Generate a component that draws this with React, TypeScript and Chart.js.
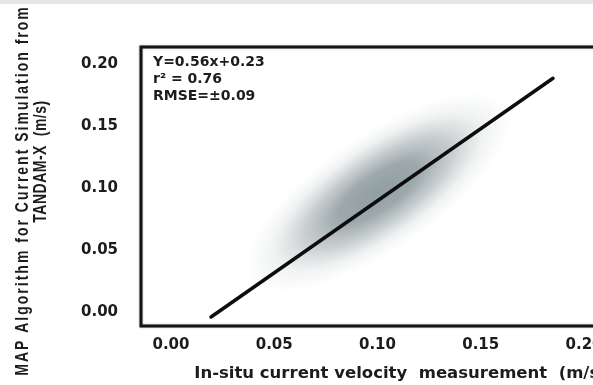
import React, { useEffect, useRef } from "react";
import { Chart, registerables } from "chart.js";

Chart.register(...registerables);

// ---- data ----
const xTickValues = [0, 0.05, 0.1, 0.15, 0.2];
const yTickValues = [0, 0.05, 0.1, 0.15, 0.2];
const xRange = [-0.0145, 0.2368];
const yRange = [-0.0109, 0.2142];
const fitLineX = [0.0194, 0.185];
const fitLineY = [-0.0036, 0.189];
// density cloud: outer ends of its major axis, and its half width (x units)
const cloudAxisX = [0.038, 0.163];
const cloudAxisY = [0.026, 0.168];
const cloudHalfWidth = 0.028;
const statsLines = ["Y=0.56x+0.23", "r\u00b2 = 0.76", "RMSE=\u00b10.09"];
const xTitle = "In-situ current velocity  measurement  (m/s)";
const yTitleLines = ["MAP Algorithm for Current Simulation from", "TANDAM-X  (m/s)"];

const TEXT = "#1c1c1c";
const WIDE = "'DejaVu Sans', sans-serif";
const ARIAL = "'Liberation Sans', Arial, sans-serif";

const cloudPlugin = {
  id: "cloud",
  beforeDatasetsDraw(chart: any) {
    const { ctx, chartArea, scales } = chart;
    const x = scales.x, y = scales.y;
    const x1 = x.getPixelForValue(cloudAxisX[0]);
    const y1 = y.getPixelForValue(cloudAxisY[0]);
    const x2 = x.getPixelForValue(cloudAxisX[1]);
    const y2 = y.getPixelForValue(cloudAxisY[1]);
    const cx = (x1 + x2) / 2, cy = (y1 + y2) / 2;
    const half = Math.hypot(x2 - x1, y2 - y1) / 2;
    const ang = Math.atan2(y2 - y1, x2 - x1);
    const w = x.getPixelForValue(cloudHalfWidth) - x.getPixelForValue(0);
    ctx.save();
    ctx.beginPath();
    ctx.rect(chartArea.left, chartArea.top, chartArea.right - chartArea.left, chartArea.bottom - chartArea.top);
    ctx.clip();
    ctx.translate(cx, cy);
    ctx.rotate(ang);
    ctx.scale(half, w);
    const g = ctx.createRadialGradient(0, 0, 0, 0, 0, 1);
    g.addColorStop(0, "rgba(84,104,109,0.64)");
    g.addColorStop(0.3, "rgba(86,106,111,0.58)");
    g.addColorStop(0.55, "rgba(95,114,119,0.34)");
    g.addColorStop(0.78, "rgba(112,130,134,0.1)");
    g.addColorStop(1, "rgba(130,145,150,0)");
    ctx.fillStyle = g;
    ctx.beginPath();
    ctx.arc(0, 0, 1, 0, Math.PI * 2);
    ctx.fill();
    ctx.restore();
  },
};

const framePlugin = {
  id: "frame",
  afterDatasetsDraw(chart: any) {
    const { ctx, chartArea: a } = chart;
    ctx.save();
    ctx.strokeStyle = "#151515";
    ctx.lineWidth = 3;
    ctx.shadowColor = "rgba(0,0,0,0.35)";
    ctx.shadowBlur = 2;
    ctx.strokeRect(a.left, a.top, a.right - a.left, a.bottom - a.top);
    ctx.restore();
  },
};

const textPlugin = {
  id: "texts",
  afterDraw(chart: any) {
    const { ctx, chartArea: a } = chart;
    ctx.save();
    ctx.fillStyle = TEXT;
    ctx.font = `bold 14px ${WIDE}`;
    ctx.textAlign = "left";
    ctx.textBaseline = "middle";
    statsLines.forEach((t, i) => ctx.fillText(t, a.left + 12, a.top + 15 + i * 17));
    ctx.restore();

    // rotated y title (two lines)
    const cyMid = (a.top + a.bottom) / 2;
    const specs = [
      { x: 23, y: cyMid + 4, spacing: "2px" },
      { x: 41, y: cyMid - 25, spacing: "0.5px" },
    ];
    yTitleLines.forEach((t, i) => {
      const s = specs[i];
      ctx.save();
      ctx.fillStyle = TEXT;
      ctx.font = `bold 14px ${ARIAL}`;
      (ctx as any).letterSpacing = s.spacing;
      ctx.textAlign = "center";
      ctx.textBaseline = "middle";
      ctx.translate(s.x, s.y);
      ctx.rotate(-Math.PI / 2);
      ctx.scale(1, 1.3);
      ctx.fillText(t, 0, 0);
      ctx.restore();
    });
  },
};

export default function App() {
  const ref = useRef<HTMLCanvasElement | null>(null);
  useEffect(() => {
    if (!ref.current) return;
    const chart = new Chart(ref.current, {
      type: "line",
      data: {
        datasets: [
          {
            data: fitLineX.map((v, i) => ({ x: v, y: fitLineY[i] })),
            borderColor: "#0d0d0d",
            borderWidth: 3.5,
            pointRadius: 0,
            borderCapStyle: "round",
            fill: false,
          },
        ],
      },
      options: {
        animation: false,
        responsive: false,
        devicePixelRatio: 1,
        layout: { padding: { left: 0, right: 20, top: 47, bottom: 0 } },
        plugins: { legend: { display: false }, tooltip: { enabled: false } },
        scales: {
          x: {
            type: "linear",
            min: xRange[0],
            max: xRange[1],
            grid: { display: false, drawTicks: false },
            border: { display: false },
            afterBuildTicks: (s: any) => { s.ticks = xTickValues.map((v) => ({ value: v })); },
            afterFit: (s: any) => { s.height = 59; },
            ticks: {
              autoSkip: false,
              maxRotation: 0,
              padding: 10,
              color: TEXT,
              font: { family: WIDE, weight: "bold", size: 15 },
              callback: (v: any) => Number(v).toFixed(2),
            },
            title: {
              display: true,
              text: xTitle,
              color: TEXT,
              font: { family: WIDE, weight: "bold", size: 16.5 },
              padding: { top: 0, bottom: 1 },
            },
          },
          y: {
            type: "linear",
            min: yRange[0],
            max: yRange[1],
            grid: { display: false, drawTicks: false },
            border: { display: false },
            afterBuildTicks: (s: any) => { s.ticks = yTickValues.map((v) => ({ value: v })); },
            afterFit: (s: any) => { s.width = 141; },
            ticks: {
              autoSkip: false,
              padding: 23,
              color: TEXT,
              font: { family: WIDE, weight: "bold", size: 15 },
              callback: (v: any) => Number(v).toFixed(2),
            },
          },
        },
      } as any,
      plugins: [cloudPlugin, framePlugin, textPlugin],
    });
    return () => chart.destroy();
  }, []);

  return (
    <div style={{ position: "fixed", left: 0, top: 0, width: 593, height: 385, overflow: "hidden", background: "#fff" }}>
      <canvas ref={ref} width={680} height={385} style={{ display: "block", position: "absolute", left: 0, top: 0 }} />
      <div style={{ position: "absolute", left: 0, top: 0, width: 593, height: 4, background: "#e3e5e7" }} />
    </div>
  );
}
